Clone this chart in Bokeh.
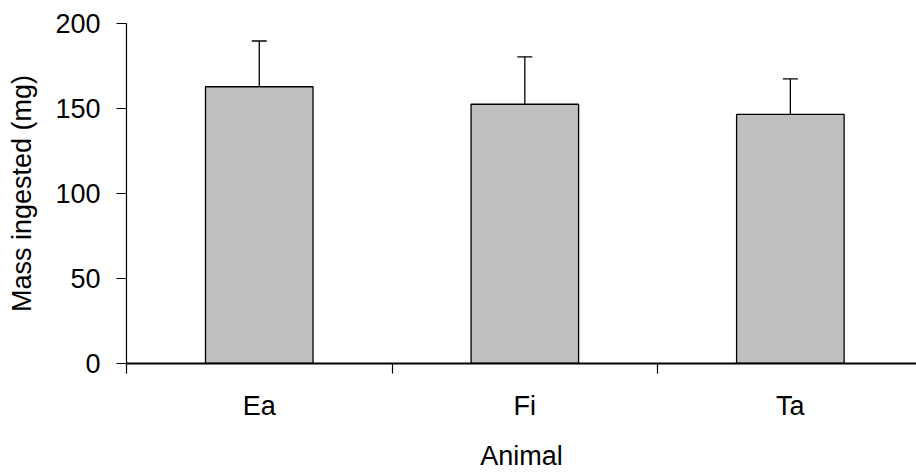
from bokeh.plotting import figure
from bokeh.models import ColumnDataSource, Range1d, FixedTicker, Whisker, TeeHead
from bokeh.embed import file_html
from bokeh.resources import INLINE

categories = ["Ea", "Fi", "Ta"]
values = [162.8, 152.5, 146.5]
errors = [26.9, 27.9, 20.9]
y_ticks = [0, 50, 100, 150, 200]
x_title = "Animal"
y_title = "Mass ingested (mg)"

xpos = [i + 0.5 for i in range(len(categories))]
upper = [v + e for v, e in zip(values, errors)]
src = ColumnDataSource(dict(x=xpos, top=values, upper=upper, cat=categories))

FONT = "Liberation Sans"
FS = "27px"

p = figure(width=916, height=473, output_backend="svg", toolbar_location=None,
           x_range=Range1d(0, 2.975), y_range=Range1d(0, 200),
           min_border_left=126, min_border_top=23, min_border_bottom=0, min_border_right=0)
p.outline_line_color = None
p.xgrid.grid_line_color = None
p.ygrid.grid_line_color = None

p.vbar(x="x", top="top", bottom=0, width=0.405, source=src,
       fill_color="#C0C0C0", line_color="black", line_width=1.3)

w = Whisker(source=src, base="x", lower="top", upper="upper", dimension="height",
            line_color="black", line_width=1.3,
            upper_head=TeeHead(size=15, line_color="black", line_width=1.3), lower_head=None)
p.add_layout(w)

# x axis
xa = p.xaxis[0]
xa.ticker = FixedTicker(ticks=xpos, minor_ticks=list(range(len(categories) + 1)))
xa.major_label_overrides = {x: c for x, c in zip(xpos, categories)}
xa.major_tick_out = 0
xa.major_tick_in = 0
xa.minor_tick_out = 10
xa.minor_tick_in = 0
xa.minor_tick_line_color = "black"
xa.minor_tick_line_width = 1.2
xa.axis_line_width = 2
xa.axis_line_color = "black"
xa.major_label_standoff = 17
xa.axis_label = x_title
xa.axis_label_standoff = 17

# y axis
ya = p.yaxis[0]
ya.ticker = FixedTicker(ticks=y_ticks)
ya.major_tick_out = 10
ya.major_tick_in = 0
ya.minor_tick_line_color = None
ya.axis_line_width = 1.2
ya.major_tick_line_width = 1.2
ya.axis_line_color = "black"
ya.major_label_standoff = 16
ya.axis_label = y_title
ya.axis_label_standoff = 15

for ax in (xa, ya):
    ax.major_label_text_font = FONT
    ax.major_label_text_font_size = FS
    ax.major_label_text_color = "black"
    ax.axis_label_text_font = FONT
    ax.axis_label_text_font_size = FS
    ax.axis_label_text_font_style = "normal"
    ax.axis_label_text_color = "black"

open("out.html", "w").write(file_html(p, INLINE))
